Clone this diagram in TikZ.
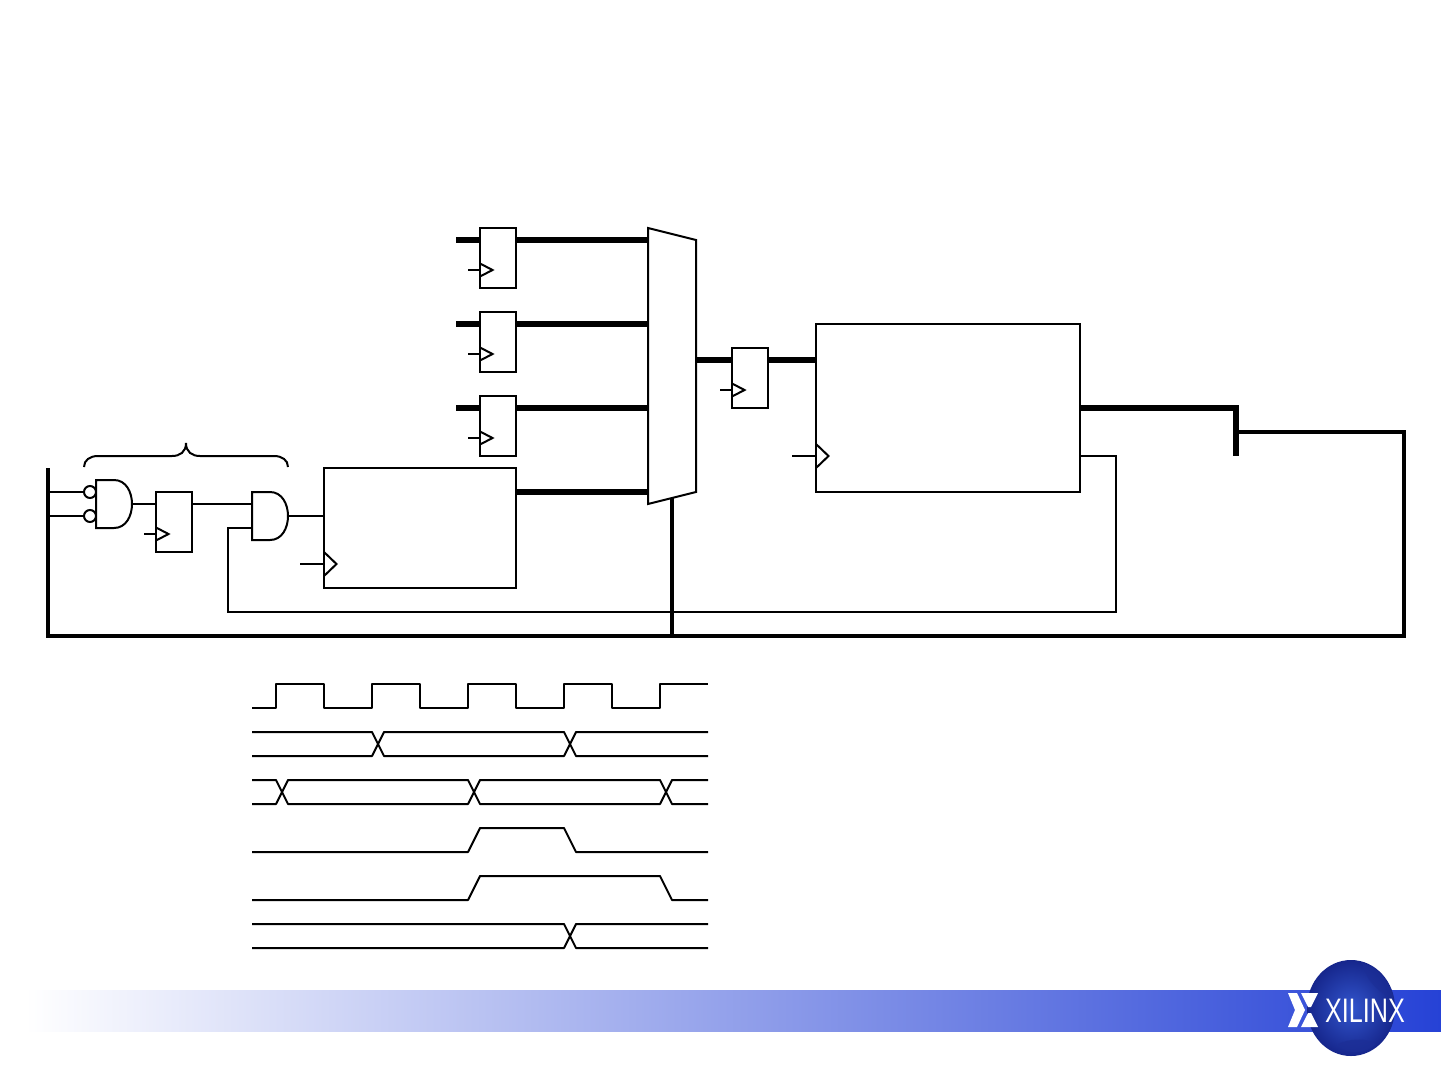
\documentclass[tikz,border=0pt]{standalone}
\usepackage{fontspec}
\usetikzlibrary{shapes.geometric}
\setmainfont{Liberation Sans}
\definecolor{bandmid}{RGB}{118,143,231}
\definecolor{bandend}{RGB}{38,66,214}
\definecolor{globelight}{RGB}{50,85,205}
\definecolor{globedark}{RGB}{22,38,140}
\definecolor{globeland}{RGB}{28,46,150}
\tikzset{
  thinw/.style={line width=2pt,line join=miter},
  busw/.style={line width=5.5pt,line cap=butt},
  ctlw/.style={line width=4pt,line join=miter},
  wave/.style={line width=2pt,line join=round},
  block/.style={draw=black,fill=white,line width=2pt,rectangle,inner sep=0pt,outer sep=0pt,minimum width=#1},
  regbox/.style={block=36pt,minimum height=60pt},
  anchorbox/.style={rectangle,inner sep=0pt,outer sep=0pt},
}
\begin{document}
\begin{tikzpicture}[x=1pt,y=-1pt]
\useasboundingbox (0,0) rectangle (1441,1080);
\fill[white] (0,0) rectangle (1441,1080);

% ---------- footer band and logo
\node (band) [anchorbox,minimum width=1416pt,minimum height=41pt,left color=white,middle color=bandmid,right color=bandend] at (733,1010.5) {};
\node (globe) [ellipse,inner sep=0pt,outer sep=0pt,minimum width=88pt,minimum height=96pt,inner color=globelight,outer color=globedark] at (1351,1008) {};
\fill[globeland,opacity=.6] (1362,963) .. controls (1380,968) and (1392,985) .. (1394,1000) .. controls (1380,992) and (1368,985) .. (1362,963) -- cycle;
\fill[globeland,opacity=.7] (1338,1044) .. controls (1350,1038) and (1368,1038) .. (1376,1044) .. controls (1366,1054) and (1348,1056) .. (1338,1044) -- cycle;
\fill[white] (1288,993) -- (1297,993) -- (1305,1010) -- (1297,1027) -- (1288,1027) -- (1295,1010) -- cycle;
\fill[white] (1301,993) -- (1318,993) -- (1311,1007) -- (1308,1007) -- cycle;
\fill[white] (1301,1027) -- (1318,1027) -- (1311,1013) -- (1308,1013) -- cycle;
\node (logotext) [anchor=center,inner sep=0pt,text=white,xscale=.74] at (1365,1010.5) {\fontsize{34pt}{34pt}\selectfont XILINX};

% ---------- named points of the connectors
\coordinate (busL) at (48,636);
\coordinate (busLtop) at (48,468);
\coordinate (busR) at (1404,636);
\coordinate (busRtop) at (1404,432);
\coordinate (busSel) at (672,636);
\coordinate (muxSel) at (672,498);
\coordinate (tee) at (1236,432);
\coordinate (teeTop) at (1236,405.25);
\coordinate (teeMid) at (1236,408);
\coordinate (teeBot) at (1236,456);
\coordinate (d1) at (456,240);
\coordinate (d2) at (456,324);
\coordinate (d3) at (456,408);
\coordinate (fbR) at (1116,456);
\coordinate (fbRb) at (1116,612);
\coordinate (fbLb) at (228,612);
\coordinate (fbLt) at (228,528);

% ---------- blocks
\node (r1) [regbox] at (498,258) {};
\node (r2) [regbox] at (498,342) {};
\node (r3) [regbox] at (498,426) {};
\node (r4) [regbox] at (750,378) {};
\node (r5) [regbox] at (174,522) {};
\node (big) [block=264pt,minimum height=168pt] at (948,408) {};
\node (cnt) [block=192pt,minimum height=120pt] at (420,528) {};

% mux
\node (mux) [anchorbox,minimum width=48pt,minimum height=276pt] at (672,366) {};
% gates
\node (g1) [anchorbox,minimum width=36pt,minimum height=48pt] at (114,504) {};
\node (g2) [anchorbox,minimum width=36pt,minimum height=48pt] at (270,516) {};
\node (b1) [circle,draw=black,line width=2pt,inner sep=0pt,outer sep=0pt,minimum size=12pt] at (90,492) {};
\node (b2) [circle,draw=black,line width=2pt,inner sep=0pt,outer sep=0pt,minimum size=12pt] at (90,516) {};

% ---------- wires
\draw[ctlw] (busLtop) -- (busL) -- (busR) -- (busRtop) -- (tee);
\draw[busw] (teeTop) -- (teeBot);
\draw[busw] (d1) -- (r1.west |- d1);
\draw[busw] (d2) -- (r2.west |- d2);
\draw[busw] (d3) -- (r3.west |- d3);
\draw[busw] (r1.east |- d1) -- (mux.west |- d1);
\draw[busw] (r2.east |- d2) -- (mux.west |- d2);
\draw[busw] (r3.east |- d3) -- (mux.west |- d3);
\coordinate (d4) at (516,492);
\draw[busw] (d4) -- (mux.west |- d4);
\coordinate (d5) at (696,360);
\draw[busw] (d5) -- (r4.west |- d5);
\draw[busw] (r4.east |- d5) -- (big.west |- d5);
\draw[busw] (big.east) -- (teeMid);
\draw[thinw] (big.east |- fbR) -- (fbR) -- (fbRb) -- (fbLb) -- (fbLt) -- (g2.west |- fbLt);
\draw[thinw] (busL |- b1) -- (b1.west);
\draw[thinw] (busL |- b2) -- (b2.west);
\draw[thinw] (g1.east) -- (r5.west |- g1.east);
\draw[thinw] (r5.east |- g1.east) -- (g2.west |- g1.east);
\draw[thinw] (g2.east) -- (cnt.west |- g2.east);

% mux and gate outlines
\draw[thinw,fill=white] (648,228) -- (696,240) -- (696,492) -- (648,504) -- cycle;
\draw[ctlw] (busSel) -- (muxSel);
\draw[thinw,fill=white] (96,480) -- (114,480) .. controls (126,480) and (132,492) .. (132,504) .. controls (132,516) and (126,528) .. (114,528) -- (96,528) -- cycle;
\draw[thinw,fill=white] (252,492) -- (270,492) .. controls (282,492) and (288,504) .. (288,516) .. controls (288,528) and (282,540) .. (270,540) -- (252,540) -- cycle;

% clock inputs
\foreach \cx/\cy/\ll in {480/270/12,480/354/12,480/438/12,732/390/12,156/534/12}{
  \draw[thinw] (\cx-\ll,\cy) -- (\cx,\cy);
  \draw[thinw] (\cx,\cy-6.5) -- (\cx+12.5,\cy) -- (\cx,\cy+6.5);
}
\foreach \cx/\cy in {816/456,324/564}{
  \draw[thinw] (\cx-24,\cy) -- (\cx,\cy);
  \draw[thinw] (\cx,\cy-12) -- (\cx+12.5,\cy) -- (\cx,\cy+12);
}

% brace
\draw[thinw] (84,467) .. controls (84,460) and (90,456) .. (98,456) -- (172,456) .. controls (180,456) and (186,452) .. (186,443) .. controls (186,452) and (192,456) .. (200,456) -- (274,456) .. controls (282,456) and (288,460) .. (288,467);

% ---------- timing
\draw[wave] (252,708) -- (276,708) -- (276,684) -- (324,684) -- (324,708) -- (372,708) -- (372,684) -- (420,684) -- (420,708) -- (468,708) -- (468,684) -- (516,684) -- (516,708) -- (564,708) -- (564,684) -- (612,684) -- (612,708) -- (660,708) -- (660,684) -- (708,684);
\draw[wave] (252,732) -- (372,732) -- (384,756) -- (564,756) -- (576,732) -- (708,732);
\draw[wave] (252,756) -- (372,756) -- (384,732) -- (564,732) -- (576,756) -- (708,756);
\draw[wave] (252,780) -- (276,780) -- (288,804) -- (468,804) -- (480,780) -- (660,780) -- (672,804) -- (708,804);
\draw[wave] (252,804) -- (276,804) -- (288,780) -- (468,780) -- (480,804) -- (660,804) -- (672,780) -- (708,780);
\draw[wave] (252,852) -- (468,852) -- (480,828) -- (564,828) -- (576,852) -- (708,852);
\draw[wave] (252,900) -- (468,900) -- (480,876) -- (660,876) -- (672,900) -- (708,900);
\draw[wave] (252,924) -- (564,924) -- (576,948) -- (708,948);
\draw[wave] (252,948) -- (564,948) -- (576,924) -- (708,924);
\end{tikzpicture}
\end{document}
